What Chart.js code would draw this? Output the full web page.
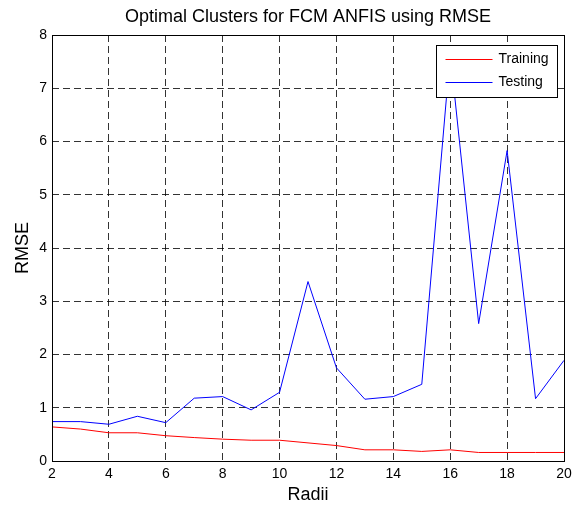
<!DOCTYPE html>
<html>
<head>
<meta charset="utf-8">
<script src="https://cdn.jsdelivr.net/npm/chart.js@4"></script>
<style>
  body { margin: 0; background: #fff; }
  #wrap { width: 586px; height: 513px; }
</style>
</head>
<body>
<div id="wrap"><canvas id="my-chart"></canvas></div>
<script>
const radii = [2, 3, 4, 5, 6, 7, 8, 9, 10, 11, 12, 13, 14, 15, 16, 17, 18, 19, 20];
const training = [0.64, 0.60, 0.53, 0.53, 0.475, 0.44, 0.41, 0.39, 0.39, 0.34, 0.29, 0.21, 0.21, 0.18, 0.21, 0.16, 0.16, 0.16, 0.16];
const testing = [0.74, 0.74, 0.69, 0.84, 0.72, 1.18, 1.21, 0.96, 1.29, 3.37, 1.75, 1.16, 1.21, 1.44, 7.65, 2.58, 5.83, 1.17, 1.89];
const xTicks = [2, 4, 6, 8, 10, 12, 14, 16, 18, 20];
const yTicks = [0, 1, 2, 3, 4, 5, 6, 7, 8];

const FONT = 'Liberation Sans, Arial, Helvetica, sans-serif';

// box around the axes + legend in the upper right
const boxAndLegend = {
    id: 'boxAndLegend',
    afterDatasetsDraw(chart) {
        const { ctx, chartArea: a } = chart;
        ctx.save();
        ctx.strokeStyle = '#000';
        ctx.lineWidth = 1;
        ctx.setLineDash([]);
        ctx.strokeRect(Math.round(a.left) + 0.5, Math.round(a.top) + 0.5,
            Math.round(a.right - a.left), Math.round(a.bottom - a.top));

        // legend
        const lx = 436.5, ly = 45.5, lw = 121, lh = 52;
        ctx.fillStyle = '#fff';
        ctx.fillRect(lx, ly, lw, lh);
        ctx.strokeRect(lx, ly, lw, lh);
        ctx.font = '14px ' + FONT;
        ctx.textBaseline = 'middle';
        chart.data.datasets.forEach((ds, i) => {
            const y = ly + 14 + i * 23;
            ctx.strokeStyle = ds.borderColor;
            ctx.beginPath();
            ctx.moveTo(lx + 9, y);
            ctx.lineTo(lx + 56, y);
            ctx.stroke();
            ctx.fillStyle = '#000';
            ctx.fillText(ds.label, lx + 62, y);
        });
        ctx.restore();
    }
};

const gridStyle = { color: 'rgba(0,0,0,0.8)', drawTicks: false, tickLength: 0 };

const ctx = document.getElementById('my-chart').getContext('2d');

const chart = new Chart(ctx, {
    type: 'line',
    data: {
        datasets: [
            { label: 'Training', data: radii.map((x, i) => ({ x, y: training[i] })), borderColor: '#ff0000', borderWidth: 1 },
            { label: 'Testing', data: radii.map((x, i) => ({ x, y: testing[i] })), borderColor: '#0000ff', borderWidth: 1 }
        ]
    },
    options: {
        responsive: true,
        maintainAspectRatio: false,
        animation: false,
        elements: { point: { radius: 0 }, line: { tension: 0 } },
        layout: { padding: { left: 0, right: 22, top: 0, bottom: 0 } },
        plugins: {
            legend: { display: false },
            tooltip: { enabled: false },
            title: {
                display: true,
                fullSize: false,
                text: 'Optimal Clusters for FCM ANFIS using RMSE',
                color: '#000',
                font: { family: FONT, size: 18, weight: 'normal' },
                padding: { top: 6, bottom: 7.4 }
            }
        },
        scales: {
            x: {
                type: 'linear',
                min: 2, max: 20,
                afterBuildTicks: s => { s.ticks = xTicks.map(v => ({ value: v })); },
                afterFit: s => { s.height = 52; },
                ticks: { color: '#000', font: { family: FONT, size: 14 }, padding: 5, maxRotation: 0 },
                grid: gridStyle,
                border: { display: false, dash: [7, 4] },
                title: { display: true, text: 'Radii', color: '#000', font: { family: FONT, size: 18 }, padding: { bottom: 7 } }
            },
            y: {
                min: 0, max: 8,
                afterBuildTicks: s => { s.ticks = yTicks.map(v => ({ value: v })); },
                afterFit: s => { s.width = 52; },
                ticks: { color: '#000', font: { family: FONT, size: 14 }, padding: 5 },
                grid: gridStyle,
                border: { display: false, dash: [7, 4] },
                title: { display: true, text: 'RMSE', color: '#000', font: { family: FONT, size: 18 }, padding: { top: 12 } }
            }
        }
    },
    plugins: [boxAndLegend]
});
</script>
</body>
</html>
